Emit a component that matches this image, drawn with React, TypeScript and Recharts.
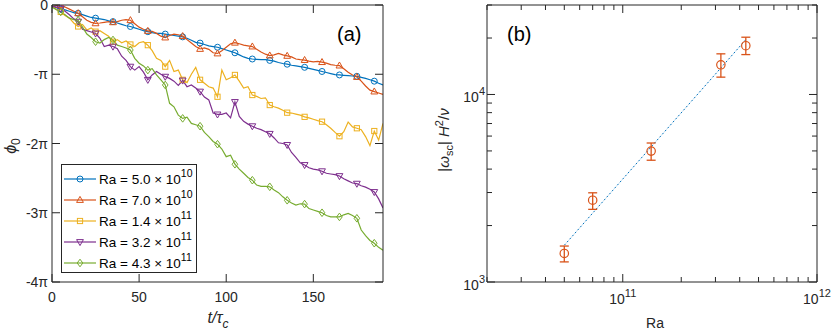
import React from 'react'
import {
  LineChart,
  Line,
  XAxis,
  YAxis,
  Legend,
  ComposedChart,
  Scatter,
  ErrorBar,
} from 'recharts'

// panel (a): phase phi_0 in units of pi vs t/tau_c
const time = [
  0, 2.5, 5, 7.5, 10, 12.5, 15, 17.5, 20, 22.5, 25, 27.5, 30, 32.5, 35, 37.5, 40, 42.5, 45, 47.5,
  50, 52.5, 55, 57.5, 60, 62.5, 65, 67.5, 70, 72.5, 75, 77.5, 80, 82.5, 85, 87.5, 90, 92.5, 95, 97.5,
  100, 102.5, 105, 107.5, 110, 112.5, 115, 117.5, 120, 122.5, 125, 127.5, 130, 132.5, 135, 137.5,
  140, 142.5, 145, 147.5, 150, 152.5, 155, 157.5, 160, 162.5, 165, 167.5, 170, 172.5, 175, 177.5,
  180, 182.5, 185, 187.5, 190,
]

const phiRa5e10 = [
  -0.02, -0.04, -0.06, -0.07, -0.09, -0.11, -0.12, -0.14, -0.16, -0.18,
  -0.19, -0.2, -0.21, -0.23, -0.24, -0.26, -0.28, -0.3, -0.31, -0.33,
  -0.35, -0.37, -0.385, -0.4, -0.41, -0.41, -0.42, -0.43, -0.44, -0.45,
  -0.46, -0.48, -0.51, -0.54, -0.55, -0.57, -0.59, -0.6, -0.61, -0.63,
  -0.65, -0.67, -0.69, -0.72, -0.75, -0.77, -0.78, -0.785, -0.79, -0.79,
  -0.8, -0.81, -0.83, -0.845, -0.855, -0.87, -0.88, -0.89, -0.9, -0.915,
  -0.93, -0.945, -0.96, -0.975, -0.99, -1.005, -1.01, -1.015, -1.02, -1.025,
  -1.03, -1.045, -1.06, -1.08, -1.1, -1.13, -1.155,
]

const phiRa7e10 = [
  -0.03, -0.01, 0, -0.03, -0.06, -0.09, -0.12, -0.17, -0.22, -0.25,
  -0.265, -0.26, -0.25, -0.24, -0.25, -0.24, -0.22, -0.21, -0.22, -0.27,
  -0.32, -0.35, -0.375, -0.38, -0.41, -0.45, -0.47, -0.44, -0.42, -0.43,
  -0.45, -0.5, -0.55, -0.6, -0.635, -0.62, -0.64, -0.69, -0.7, -0.66,
  -0.61, -0.56, -0.545, -0.56, -0.58, -0.59, -0.6, -0.64, -0.68, -0.71,
  -0.73, -0.72, -0.7, -0.72, -0.735, -0.75, -0.78, -0.79, -0.795, -0.81,
  -0.82, -0.815, -0.825, -0.84, -0.86, -0.87, -0.875, -0.92, -0.97, -1.01,
  -1.04, -1.1, -1.17, -1.23, -1.25, -1.27, -1.29,
]

const phiRa14e11 = [
  -0.02, -0.06, -0.1, -0.15, -0.19, -0.26, -0.31, -0.28, -0.36, -0.33,
  -0.385, -0.37, -0.41, -0.45, -0.53, -0.5, -0.545, -0.52, -0.57, -0.6,
  -0.545, -0.53, -0.58, -0.66, -0.77, -0.8, -0.89, -0.8, -0.96, -0.94,
  -1.08, -1.12, -1.0, -0.9, -1.08, -1.13, -1.18, -1.2, -1.325, -0.94,
  -1.08, -1.05, -1.01, -1.1, -1.2, -1.18, -1.3, -1.32, -1.35, -1.34,
  -1.445, -1.47, -1.49, -1.52, -1.555, -1.56, -1.575, -1.59, -1.615, -1.63,
  -1.65, -1.67, -1.685, -1.73, -1.78, -1.84, -1.895, -1.83, -1.69, -1.76,
  -1.78, -1.8, -1.9, -2.03, -1.82, -1.95, -1.71,
]

const phiRa32e11 = [
  -0.02, -0.03, -0.05, -0.09, -0.14, -0.2, -0.24, -0.35, -0.37, -0.39,
  -0.41, -0.48, -0.6, -0.58, -0.6, -0.63, -0.74, -0.8, -0.89, -0.94,
  -0.89, -0.97, -1.08, -1.01, -0.96, -1.0, -1.035, -1.06, -1.1, -1.16,
  -1.09, -1.18, -1.155, -1.2, -1.25, -1.33, -1.37, -1.56, -1.58, -1.58,
  -1.56, -1.63, -1.4, -1.61, -1.68, -1.72, -1.75, -1.78, -1.8, -1.83,
  -1.86, -1.92, -1.99, -2.0, -2.02, -2.13, -2.2, -2.28, -2.31, -2.35,
  -2.37, -2.38, -2.4, -2.43, -2.44, -2.45, -2.47, -2.51, -2.54, -2.57,
  -2.58, -2.61, -2.63, -2.66, -2.7, -2.8, -2.93,
]

const phiRa43e11 = [
  -0.03, -0.07, -0.1, -0.14, -0.19, -0.21, -0.22, -0.32, -0.42, -0.47,
  -0.53, -0.55, -0.5, -0.47, -0.505, -0.58, -0.6, -0.62, -0.65, -0.77,
  -0.84, -0.88, -0.94, -0.92, -1.01, -1.08, -1.155, -1.42, -1.47, -1.59,
  -1.637, -1.62, -1.71, -1.73, -1.75, -1.84, -1.9, -1.97, -2.01, -2.08,
  -2.19, -2.17, -2.3, -2.37, -2.43, -2.49, -2.53, -2.6, -2.62, -2.62,
  -2.625, -2.67, -2.71, -2.77, -2.82, -2.86, -2.89, -2.87, -2.875, -2.94,
  -2.96, -2.98, -3.0, -3.04, -3.06, -3.06, -3.06, -3.03, -3.01, -3.04,
  -3.08, -3.25, -3.33, -3.4, -3.44, -3.5, -3.54,
]

const tTicks = [0, 50, 100, 150]
const phiTicks = [-4, -3, -2, -1, 0]

// panel (b): rotation rate vs Ra
const raValues = [5.0e10, 7.0e10, 1.4e11, 3.2e11, 4.3e11]
const omegaValues = [1420, 2730, 4990, 14400, 18200]
const omegaErrLow = [140, 290, 530, 2030, 1880]
const omegaErrHigh = [135, 260, 520, 2070, 2000]
const fitRa = [5.0e10, 4.3e11]
const fitOmega = [1570, 19600]

const raTicks = [
  2e10, 3e10, 4e10, 5e10, 6e10, 7e10, 8e10, 9e10, 1e11,
  2e11, 3e11, 4e11, 5e11, 6e11, 7e11, 8e11, 9e11, 1e12,
]
const omegaTicks = [1e3, 2e3, 3e3, 4e3, 5e3, 6e3, 7e3, 8e3, 9e3, 1e4, 2e4, 3e4]

const seriesInfo = [
  { key: 's0', values: phiRa5e10, color: '#0072BD', shape: 'circle', mant: '5.0', exp: '10' },
  { key: 's1', values: phiRa7e10, color: '#D95319', shape: 'up', mant: '7.0', exp: '10' },
  { key: 's2', values: phiRa14e11, color: '#EDB120', shape: 'square', mant: '1.4', exp: '11' },
  { key: 's3', values: phiRa32e11, color: '#7E2F8E', shape: 'down', mant: '3.2', exp: '11' },
  { key: 's4', values: phiRa43e11, color: '#77AC30', shape: 'diamond', mant: '4.3', exp: '11' },
]

const phaseRows = time.map((t, i) => {
  const row: Record<string, number> = { t }
  seriesInfo.forEach((s) => {
    row[s.key] = s.values[i]
  })
  return row
})

const pointRows = raValues.map((ra, i) => ({
  ra,
  w: omegaValues[i],
  err: [omegaErrLow[i], omegaErrHigh[i]],
}))

const fitRows = fitRa.map((ra, i) => ({ ra, w: fitOmega[i] }))

const FONT = '"Liberation Sans", Arial, Helvetica, sans-serif'
const AXIS = '#262626'

const Marker = ({ shape, cx, cy, color }: { shape: string; cx: number; cy: number; color: string }) => {
  const common = { fill: 'none', stroke: color, strokeWidth: 1 }
  if (shape === 'circle') return <circle cx={cx} cy={cy} r={3} {...common} />
  if (shape === 'square') return <rect x={cx - 2.6} y={cy - 2.6} width={5.2} height={5.2} {...common} />
  if (shape === 'up')
    return <polygon points={`${cx},${cy - 3.6} ${cx - 3.4},${cy + 2.4} ${cx + 3.4},${cy + 2.4}`} {...common} />
  if (shape === 'down')
    return <polygon points={`${cx},${cy + 3.6} ${cx - 3.4},${cy - 2.4} ${cx + 3.4},${cy - 2.4}`} {...common} />
  return <polygon points={`${cx},${cy - 3.8} ${cx + 2.8},${cy} ${cx},${cy + 3.8} ${cx - 2.8},${cy}`} {...common} />
}

const makeDot = (shape: string, color: string) => (props: any) => {
  const { cx, cy, index } = props
  if (index % 4 !== 2 || cx == null || cy == null) return <g key={`n-${index}`} />
  return (
    <g key={`d-${index}`}>
      <Marker shape={shape} cx={cx} cy={cy} color={color} />
    </g>
  )
}

const phiLabel = (v: number) => {
  if (v === 0) return '0'
  if (v === -1) return '-π'
  return `${v}π`
}

const isMajor = (v: number) => Math.abs(Math.log10(v) - Math.round(Math.log10(v))) < 1e-6

// tick renderers: tick marks point into the plot box, like the original
const BottomTickA = ({ x, y, payload }: any) => (
  <g>
    <line x1={x} x2={x} y1={y} y2={y - 8} stroke={AXIS} />
    <text x={x} y={y + 20} textAnchor="middle" fontSize={14} fontFamily={FONT} fill={AXIS}>
      {payload.value}
    </text>
  </g>
)
const TopTickA = ({ x, y }: any) => <line x1={x} x2={x} y1={y} y2={y + 8} stroke={AXIS} />
const LeftTickA = ({ x, y, payload }: any) => (
  <g>
    <line x1={x} x2={x + 8} y1={y} y2={y} stroke={AXIS} />
    <text x={x - 4} y={y + 5} textAnchor="end" fontSize={14} fontFamily={FONT} fill={AXIS}>
      {phiLabel(payload.value)}
    </text>
  </g>
)
const RightTickA = ({ x, y }: any) => <line x1={x} x2={x - 8} y1={y} y2={y} stroke={AXIS} />

const expOf = (v: number) => String(Math.round(Math.log10(v)))

const BottomTickB = ({ x, y, payload }: any) => {
  const major = isMajor(payload.value)
  return (
    <g>
      <line x1={x} x2={x} y1={y} y2={y - (major ? 8 : 5)} stroke={AXIS} />
      {major && (
        <text x={x} y={y + 22} textAnchor="middle" fontSize={14} fontFamily={FONT} fill={AXIS}>
          10<tspan dy={-7} fontSize={11}>{expOf(payload.value)}</tspan>
        </text>
      )}
    </g>
  )
}
const TopTickB = ({ x, y, payload }: any) => (
  <line x1={x} x2={x} y1={y} y2={y + (isMajor(payload.value) ? 8 : 5)} stroke={AXIS} />
)
const LeftTickB = ({ x, y, payload }: any) => {
  const major = isMajor(payload.value)
  return (
    <g>
      <line x1={x} x2={x + (major ? 8 : 5)} y1={y} y2={y} stroke={AXIS} />
      {major && (
        <text x={x - 2} y={y + 8} textAnchor="end" fontSize={14} fontFamily={FONT} fill={AXIS}>
          10<tspan dy={-7} fontSize={11}>{expOf(payload.value)}</tspan>
        </text>
      )}
    </g>
  )
}
const RightTickB = ({ x, y, payload }: any) => (
  <line x1={x} x2={x - (isMajor(payload.value) ? 8 : 5)} y1={y} y2={y} stroke={AXIS} />
)

const PhaseLegend = () => (
  <svg width={136} height={110} style={{ display: 'block' }}>
    <rect x={0.5} y={0.5} width={135} height={108} fill="#fff" stroke={AXIS} strokeWidth={1} />
    {seriesInfo.map((s, i) => {
      const cy = 15 + i * 21
      return (
        <g key={s.key}>
          <line x1={3} x2={35} y1={cy} y2={cy} stroke={s.color} strokeWidth={1.2} />
          <Marker shape={s.shape} cx={19} cy={cy} color={s.color} />
          <text x={38} y={cy + 5} fontSize={13.5} fontFamily={FONT} fill="#000">
            Ra = {s.mant} × 10<tspan dy={-7} fontSize={10.5}>{s.exp}</tspan>
          </text>
        </g>
      )
    })}
  </svg>
)

export default function App() {
  return (
    <div style={{ position: 'absolute', left: 0, top: 0, width: 831, height: 331, background: '#fff', fontFamily: FONT }}>
      <div style={{ position: 'absolute', left: 0, top: 0 }}>
        <LineChart width={400} height={331} data={phaseRows} margin={{ top: 4, right: 16, bottom: 0, left: 0 }}>
          <XAxis
            dataKey="t"
            type="number"
            domain={[0, 190]}
            ticks={tTicks}
            interval={0}
            allowDataOverflow
            height={49}
            stroke={AXIS}
            tickLine={false}
            tickSize={0}
            tickMargin={0}
            tick={BottomTickA}
          />
          <XAxis
            xAxisId="top"
            orientation="top"
            dataKey="t"
            type="number"
            domain={[0, 190]}
            ticks={tTicks}
            interval={0}
            allowDataOverflow
            height={1}
            stroke={AXIS}
            tickLine={false}
            tickSize={0}
            tickMargin={0}
            tick={TopTickA}
          />
          <YAxis
            type="number"
            domain={[-4, 0]}
            ticks={phiTicks}
            interval={0}
            allowDataOverflow
            width={52}
            stroke={AXIS}
            tickLine={false}
            tickSize={0}
            tickMargin={0}
            tick={LeftTickA}
          />
          <YAxis
            yAxisId="right"
            orientation="right"
            type="number"
            domain={[-4, 0]}
            ticks={phiTicks}
            interval={0}
            allowDataOverflow
            width={1}
            stroke={AXIS}
            tickLine={false}
            tickSize={0}
            tickMargin={0}
            tick={RightTickA}
          />
          {seriesInfo.map((s) => (
            <Line
              key={s.key}
              dataKey={s.key}
              type="linear"
              stroke={s.color}
              strokeWidth={1.2}
              dot={makeDot(s.shape, s.color)}
              activeDot={false}
              isAnimationActive={false}
            />
          ))}
          <Legend
            layout="horizontal"
            verticalAlign="middle"
            align="center"
            wrapperStyle={{ left: 61, top: 164, width: 136, height: 110 }}
            content={() => <PhaseLegend />}
          />
        </LineChart>
      </div>

      <div style={{ position: 'absolute', left: 420, top: 0 }}>
        <ComposedChart width={411} height={331} margin={{ top: 4, right: 13, bottom: 0, left: 0 }}>
          <XAxis
            dataKey="ra"
            type="number"
            scale="log"
            domain={[2e10, 1e12]}
            ticks={raTicks}
            interval={0}
            allowDataOverflow
            height={49}
            stroke={AXIS}
            tickLine={false}
            tickSize={0}
            tickMargin={0}
            tick={BottomTickB}
          />
          <XAxis
            xAxisId="top"
            orientation="top"
            dataKey="ra"
            type="number"
            scale="log"
            domain={[2e10, 1e12]}
            ticks={raTicks}
            interval={0}
            allowDataOverflow
            height={1}
            stroke={AXIS}
            tickLine={false}
            tickSize={0}
            tickMargin={0}
            tick={TopTickB}
          />
          <YAxis
            type="number"
            scale="log"
            domain={[1e3, 3e4]}
            ticks={omegaTicks}
            interval={0}
            allowDataOverflow
            width={67}
            stroke={AXIS}
            tickLine={false}
            tickSize={0}
            tickMargin={0}
            tick={LeftTickB}
          />
          <YAxis
            yAxisId="right"
            orientation="right"
            type="number"
            scale="log"
            domain={[1e3, 3e4]}
            ticks={omegaTicks}
            interval={0}
            allowDataOverflow
            width={1}
            stroke={AXIS}
            tickLine={false}
            tickSize={0}
            tickMargin={0}
            tick={RightTickB}
          />
          <Line
            data={fitRows}
            dataKey="w"
            type="linear"
            stroke="#0072BD"
            strokeWidth={1}
            strokeDasharray="2 2"
            dot={false}
            activeDot={false}
            isAnimationActive={false}
          />
          <Scatter
            data={pointRows}
            dataKey="w"
            isAnimationActive={false}
            shape={(p: any) => <circle cx={p.cx} cy={p.cy} r={4.2} fill="none" stroke="#D95319" strokeWidth={1.2} />}
          >
            <ErrorBar dataKey="err" direction="y" width={4.5} stroke="#D95319" strokeWidth={1.3} isAnimationActive={false} />
          </Scatter>
        </ComposedChart>
      </div>

      <svg width={831} height={331} style={{ position: 'absolute', left: 0, top: 0, pointerEvents: 'none' }}>
        <g fontFamily={FONT} fill="#000">
          <text x={337} y={41} fontSize={20}>(a)</text>
          <text x={507} y={41} fontSize={20}>(b)</text>
          <text transform="translate(16,146) rotate(-90)" textAnchor="middle" fontSize={16} fill={AXIS}>
            <tspan fontStyle="italic">ϕ</tspan>
            <tspan dy={4} fontSize={12}>0</tspan>
          </text>
          <text x={218} y={323} textAnchor="middle" fontSize={16} fill={AXIS}>
            <tspan fontStyle="italic">t/τ</tspan>
            <tspan dy={5} fontSize={12} fontStyle="italic">c</tspan>
          </text>
          <text x={655} y={328} textAnchor="middle" fontSize={14} fill={AXIS}>Ra</text>
          <text transform="translate(449,140) rotate(-90)" textAnchor="middle" fontSize={15} fill={AXIS}>
            |<tspan fontStyle="italic">ω</tspan>
            <tspan dy={4} fontSize={11}>sc</tspan>
            <tspan dy={-4}>| </tspan>
            <tspan fontStyle="italic">H</tspan>
            <tspan dy={-6} fontSize={11}>2</tspan>
            <tspan dy={6}>/</tspan>
            <tspan fontStyle="italic">ν</tspan>
          </text>
        </g>
      </svg>
    </div>
  )
}
